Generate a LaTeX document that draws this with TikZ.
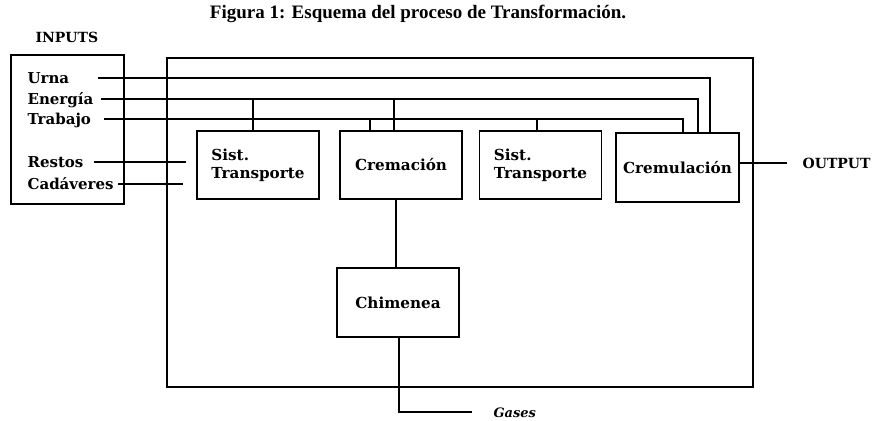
\documentclass[tikz,border=0pt]{standalone}
\usepackage{fontspec}
\setmainfont{Liberation Serif}
\newfontfamily\boxfont{DejaVu Serif}
\usetikzlibrary{positioning}

\begin{document}
\begin{tikzpicture}[x=1pt,y=-1pt,line width=1.2pt,
  frame node/.style={draw,inner sep=0pt},
  box node/.style={draw,inner sep=0pt,minimum width=122pt,minimum height=68pt,align=left,font=\boxfont\bfseries\fontsize{15.2}{18}\selectfont},
  in label/.style={anchor=base west,inner sep=0pt,font=\boxfont\bfseries\fontsize{15}{17}\selectfont}]

\useasboundingbox (0,0) rectangle (874,420);

\node[font=\bfseries\fontsize{19}{21}\selectfont] (title) at (418,14) {Figura 1: Esquema del proceso de Transformación.};

\node[frame node,minimum width=113pt,minimum height=149pt] (inbox) at (67.5,129.5) {};
\node[frame node,minimum width=586pt,minimum height=329pt] (plant) at (460,222.5) {};

\node[in label,font=\boxfont\bfseries\fontsize{14}{16}\selectfont] (inputs) at (35,43) {INPUTS};
\node[in label] (urna) at (27,83) {Urna};
\node[in label] (energia) at (27,104) {Energía};
\node[in label] (trabajo) at (27,124) {Trabajo};
\node[in label] (restos) at (27,167) {Restos};
\node[in label] (cadaveres) at (27,189) {Cadáveres};

\node[box node] (st1) at (258,165) {Sist.\\Transporte};
\node[box node] (crem) at (401,165) {Cremación};
\node[box node] (st2) at (540.5,165) {Sist.\\Transporte};
\node[box node,minimum width=123pt,minimum height=69pt] (cremu) at (677.5,167.5) {Cremulación};
\node[box node,minimum height=69pt] (chim) at (398,302.5) {Chimenea};

\node[in label,font=\boxfont\bfseries\fontsize{14}{16}\selectfont] (output) at (802,168) {OUTPUT};
\node[in label,font=\boxfont\bfseries\itshape\fontsize{13}{15}\selectfont] (gases) at (493,417) {Gases};

\coordinate (u0) at (98,78);
\coordinate (e0) at (101,99);
\coordinate (t0) at (104,119);
\coordinate (r0) at (94,162);
\coordinate (r1) at (186,162);
\coordinate (c0) at (118,184);
\coordinate (c1) at (183,184);
\coordinate (out) at (787,163);
\coordinate (g1) at (472,412);

\draw (u0) -| ([xshift=32.5pt]cremu.north);
\draw (e0) -| ([xshift=20.5pt]cremu.north);
\draw (t0) -| ([xshift=5.5pt]cremu.north);
\draw ([xshift=-5pt]st1.north) -- ([xshift=-5pt]st1.north |- e0);
\draw ([xshift=-7pt]crem.north) -- ([xshift=-7pt]crem.north |- e0);
\draw ([xshift=-31pt]crem.north) -- ([xshift=-31pt]crem.north |- t0);
\draw ([xshift=-3.5pt]st2.north) -- ([xshift=-3.5pt]st2.north |- t0);
\draw (r0) -- (r1);
\draw (c0) -- (c1);
\draw (cremu.east |- out) -- (out);
\draw ([xshift=-2pt]chim.north) -- ([xshift=-2pt]chim.north |- crem.south);
\draw ([xshift=1pt]chim.south) |- (g1);
\end{tikzpicture}
\end{document}
